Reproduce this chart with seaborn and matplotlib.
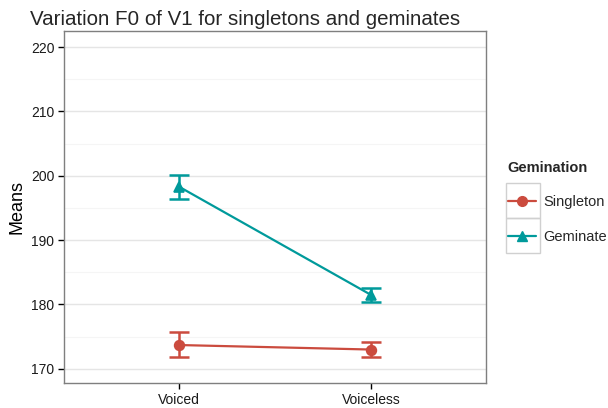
import matplotlib
matplotlib.use("Agg")
import matplotlib.pyplot as plt
import seaborn as sns
import pandas as pd
from matplotlib.lines import Line2D
from matplotlib.patches import Rectangle

voicing = ["Voiced", "Voiceless"]
groups = ["Singleton", "Geminate"]
singleton_mean = [173.7, 173.0]
singleton_lo = [171.8, 171.9]
singleton_hi = [175.7, 174.1]
geminate_mean = [198.3, 181.5]
geminate_lo = [196.4, 180.4]
geminate_hi = [200.2, 182.6]

rows = []
for g, m, lo, hi in [("Singleton", singleton_mean, singleton_lo, singleton_hi),
                     ("Geminate", geminate_mean, geminate_lo, geminate_hi)]:
    for v, mm, l, h in zip(voicing, m, lo, hi):
        rows.append({"Voicing": v, "Gemination": g, "Means": mm, "lo": l, "hi": h})
df = pd.DataFrame(rows)

sns.set_theme(style="white")
plt.rcParams["font.family"] = ["Liberation Sans", "DejaVu Sans"]

colors = {"Singleton": "#CB4B3E", "Geminate": "#009A9B"}
markers = {"Singleton": "o", "Geminate": "^"}

fig = plt.figure(figsize=(6.08, 4.08), dpi=100)
ax = fig.add_axes([64/608, 25/408, (486-64)/608, (383-31)/408])

# grid
ax.set_axisbelow(True)
for y in [175, 185, 195, 205, 215]:
    ax.axhline(y, color="#F5F5F5", lw=0.8, zorder=0)
ax.grid(True, which="major", color="#E5E5E5", lw=1.0)

sns.pointplot(data=df, x="Voicing", y="Means", hue="Gemination", order=voicing,
              hue_order=groups, palette=colors, markers=["o", "^"],
              errorbar=None, linewidth=1.6, markersize=7, ax=ax, legend=False)

xpos = {v: i for i, v in enumerate(voicing)}
for g in groups:
    sub = df[df["Gemination"] == g]
    xs = [xpos[v] for v in sub["Voicing"]]
    ax.errorbar(xs, sub["Means"], yerr=[sub["Means"] - sub["lo"], sub["hi"] - sub["Means"]],
                fmt="none", ecolor=colors[g], elinewidth=1.8, capsize=7, capthick=1.8, zorder=3)

ax.set_xlim(-0.6, 1.6)
ax.set_ylim(167.8, 222.5)
ax.set_yticks([170, 180, 190, 200, 210, 220])
ax.set_xlabel("")
ax.set_ylabel("Means", fontsize=13, color="black")
ax.tick_params(axis="both", labelsize=10, colors="black", length=4, width=1,
               left=True, bottom=True, direction="out", pad=3)
ax.tick_params(axis="both", labelcolor="#1a1a1a")
for s in ax.spines.values():
    s.set_color("#7F7F7F")
    s.set_linewidth(1.0)
ax.set_title("Variation F0 of V1 for singletons and geminates", fontsize=14.8,
             loc="left", x=-0.08, pad=4)

# legend
handles = [Line2D([0], [0], color=colors[g], marker=markers[g], markersize=7, lw=1.6)
           for g in groups]
leg = fig.legend(handles, groups, title="Gemination", loc="upper left",
                 bbox_to_anchor=(502/608, 1 - 155/408), frameon=False,
                 fontsize=10.5, title_fontsize=10.5, handlelength=1.9,
                 labelspacing=1.4, handletextpad=0.55, borderaxespad=0)
leg.get_title().set_fontweight("bold")
leg._legend_box.align = "left"
for i in range(2):
    fig.patches.append(Rectangle((506/608, 1 - (218 + 35*i)/408), 34/608, 35/408,
                                 transform=fig.transFigure, fill=False,
                                 edgecolor="#D0D0D0", lw=1.0))

fig.savefig("out.png", dpi=100)
